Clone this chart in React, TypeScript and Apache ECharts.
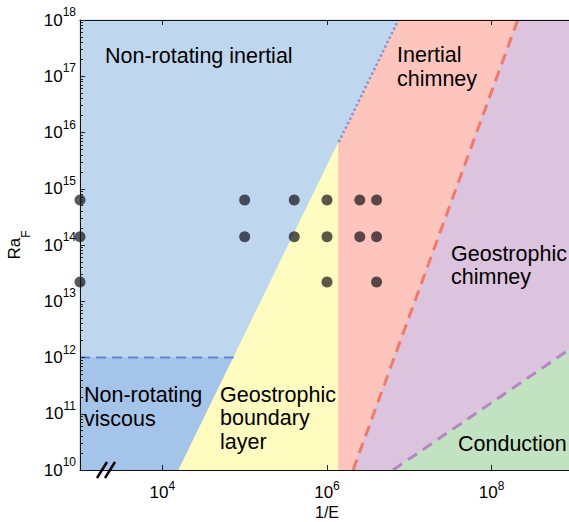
import React, { useEffect, useRef } from 'react';
import * as echarts from 'echarts';

// Axis ticks (log10 exponents)
const xTickExps = [4, 6, 8];
const yTickExps = [10, 11, 12, 13, 14, 15, 16, 17, 18];
const xRange = [3, 9];
const yRange = [10, 18];

// Simulation points: 1/E and Ra_F
const simInvE = [1e3, 1e3, 1e3, 1e5, 1e5, 4e5, 4e5, 1e6, 1e6, 1e6, 2.5e6, 2.5e6, 4e6, 4e6, 4e6];
const simRaF = [6.3e14, 1.4e14, 2.2e13, 6.3e14, 1.4e14, 6.3e14, 1.4e14, 6.3e14, 1.4e14, 2.2e13, 6.3e14, 1.4e14, 6.3e14, 1.4e14, 2.2e13];

// Regime boundaries, as [log10(1/E), log10(Ra_F)] end points
const viscousTop = 12; // Ra_F = 1e12
const lineInertialBL = [[4.2, 10], [6.867, 18]]; // Ra_F ~ E^-3
const chimneyOnset = 6.143; // log10(1/E) of vertical boundary
const lineChimney = [[6.317, 10], [8.317, 18]]; // Ra_F ~ E^-4
const lineConduction = [[6.802, 10], [9, 12.198]]; // Ra_F ~ E^-1

const regionNames = [
  'Non-rotating inertial',
  'Inertial\nchimney',
  'Geostrophic\nchimney',
  'Non-rotating\nviscous',
  'Geostrophic\nboundary\nlayer',
  'Conduction',
];

const FONT = '"Liberation Sans", Arial, Helvetica, sans-serif';

function uAt(line: number[][], v: number) {
  const [[u0, v0], [u1, v1]] = line;
  return u0 + ((v - v0) * (u1 - u0)) / (v1 - v0);
}
function vAt(line: number[][], u: number) {
  const [[u0, v0], [u1, v1]] = line;
  return v0 + ((u - u0) * (v1 - v0)) / (u1 - u0);
}

export default function App() {
  const ref = useRef<HTMLDivElement>(null);
  useEffect(() => {
    if (!ref.current) return;
    document.body.style.margin = '0';
    const chart = echarts.init(ref.current, null, { renderer: 'svg' });

    const A = lineInertialBL;
    const B = lineChimney;
    const C = lineConduction;
    const uV = uAt(A, viscousTop);
    const vOn = vAt(A, chimneyOnset);
    const [x0, x1] = xRange;
    const [y0, y1] = yRange;

    const regions = [
      { color: '#bed7ef', pts: [[x0, viscousTop], [uV, viscousTop], A[1], [x0, y1]] },
      { color: '#a4c4e9', pts: [[x0, y0], A[0], [uV, viscousTop], [x0, viscousTop]] },
      { color: '#fefcbf', pts: [A[0], [chimneyOnset, y0], [chimneyOnset, vOn]] },
      { color: '#fec5bd', pts: [[chimneyOnset, y0], B[0], B[1], A[1], [chimneyOnset, vOn]] },
      { color: '#dcc3de', pts: [B[0], C[0], C[1], [x1, y1], B[1]] },
      { color: '#c1e3c1', pts: [C[0], [x1, y0], C[1]] },
    ];

    const minorY: number[] = [];
    for (let d = y0; d < y1; d++) {
      for (let k = 2; k <= 9; k++) minorY.push(d + Math.log10(k));
    }

    const lineBase = { type: 'value', z: 10, splitLine: { show: false } };
    const axisLine = { show: true, onZero: false, lineStyle: { color: '#111', width: 1 } };
    const tickStyle = { color: '#222', width: 1 };

    const yRich = {
      b: { fontSize: 17, lineHeight: 28, fontFamily: FONT, color: '#000' },
      s: { fontSize: 12, lineHeight: 12, verticalAlign: 'top', fontFamily: FONT, color: '#000' },
    };
    const xRich = {
      b: { fontSize: 17, lineHeight: 24, fontFamily: FONT, color: '#000' },
      s: { fontSize: 12, lineHeight: 12, verticalAlign: 'top', fontFamily: FONT, color: '#000' },
    };
    const supFmt = (v: number) => `{b|10}{s|${Math.round(v)}}`;

    const labelPos = [
      { x: 105, y: 44.5 },
      { x: 397, y: 43.5 },
      { x: 451, y: 242 },
      { x: 84, y: 383.5 },
      { x: 220, y: 383 },
      { x: 458, y: 432 },
    ];

    const option: any = {
      animation: false,
      textStyle: { fontFamily: FONT },
      grid: [
        { left: 80, top: 20, right: -5, bottom: 52, outerBoundsMode: 'none' },
        { left: 80, top: 20, right: -5, bottom: 52, outerBoundsMode: 'none' },
      ],
      xAxis: [
        {
          ...lineBase,
          gridIndex: 0,
          position: 'bottom',
          min: x0,
          max: x1,
          interval: 1,
          axisLine,
          axisTick: { show: true, inside: true, length: 5, customValues: xTickExps, lineStyle: tickStyle },
          axisLabel: { customValues: xTickExps, margin: 10, formatter: supFmt, rich: xRich },
          name: '1/E',
          nameLocation: 'middle',
          nameGap: 34,
          nameMoveOverlap: false,
          nameTextStyle: { fontSize: 16, color: '#000', fontFamily: FONT },
        },
        {
          ...lineBase,
          gridIndex: 0,
          position: 'top',
          min: x0,
          max: x1,
          interval: 1,
          axisLine,
          axisTick: { show: true, inside: true, length: 5, customValues: xTickExps, lineStyle: tickStyle },
          axisLabel: { show: false },
        },
        {
          ...lineBase,
          gridIndex: 1,
          min: x0,
          max: x1,
          show: false,
        },
      ],
      yAxis: [
        {
          ...lineBase,
          gridIndex: 0,
          position: 'left',
          min: y0,
          max: y1,
          interval: 1,
          axisLine,
          axisTick: { show: true, inside: true, length: 5, lineStyle: tickStyle },
          axisLabel: { margin: 4, formatter: supFmt, rich: yRich },
          name: '{a|Ra}{f|F}',
          nameLocation: 'middle',
          nameGap: 48,
          nameRotate: 90,
          nameMoveOverlap: false,
          nameTextStyle: {
            color: '#000',
            rich: {
              a: { fontSize: 17, lineHeight: 35, fontFamily: FONT, color: '#000' },
              f: { fontSize: 12, lineHeight: 12, verticalAlign: 'bottom', fontFamily: FONT, color: '#000' },
            },
          },
        },
        {
          ...lineBase,
          gridIndex: 0,
          position: 'right',
          min: y0,
          max: y1,
          interval: 1,
          axisLine,
          axisTick: { show: true, inside: true, length: 5, lineStyle: tickStyle },
          axisLabel: { show: false },
        },
        {
          ...lineBase,
          gridIndex: 1,
          position: 'left',
          min: y0,
          max: y1,
          interval: 1,
          axisLine: { show: false },
          axisTick: { show: true, inside: true, length: 3, customValues: minorY, lineStyle: tickStyle },
          axisLabel: { show: false },
        },
        {
          ...lineBase,
          gridIndex: 1,
          position: 'right',
          min: y0,
          max: y1,
          interval: 1,
          axisLine: { show: false },
          axisTick: { show: true, inside: true, length: 3, customValues: minorY, lineStyle: tickStyle },
          axisLabel: { show: false },
        },
      ],
      series: [
        {
          type: 'custom',
          xAxisIndex: 0,
          yAxisIndex: 0,
          z: 1,
          silent: true,
          clip: false,
          data: regions.map((r) => [r.pts[0][0], r.pts[0][1]]),
          renderItem: (params: any, api: any) => {
            const r = regions[params.dataIndex];
            return {
              type: 'polygon',
              shape: { points: r.pts.map((p) => api.coord(p)) },
              style: { fill: r.color, stroke: r.color, lineWidth: 1 },
            };
          },
        },
        {
          type: 'line',
          xAxisIndex: 0,
          yAxisIndex: 0,
          z: 3,
          symbol: 'none',
          silent: true,
          data: [[x0, viscousTop], [uV, viscousTop]],
          lineStyle: { color: '#5f86d0', width: 2, type: [10, 6] },
        },
        {
          type: 'line',
          xAxisIndex: 0,
          yAxisIndex: 0,
          z: 3,
          symbol: 'none',
          silent: true,
          data: [[chimneyOnset, vOn], A[1]],
          lineStyle: { color: '#7f97d8', width: 2.5, type: [2.5, 2.5] },
        },
        {
          type: 'line',
          xAxisIndex: 0,
          yAxisIndex: 0,
          z: 3,
          symbol: 'none',
          silent: true,
          data: B,
          lineStyle: { color: '#f3796a', width: 3, type: [11, 7] },
        },
        {
          type: 'line',
          xAxisIndex: 0,
          yAxisIndex: 0,
          z: 3,
          symbol: 'none',
          silent: true,
          clip: false,
          data: C,
          lineStyle: { color: '#b586c1', width: 3, type: [11, 7] },
        },
        {
          type: 'scatter',
          xAxisIndex: 0,
          yAxisIndex: 0,
          z: 5,
          clip: false,
          symbolSize: 11,
          itemStyle: { color: 'rgba(5,5,10,0.83)' },
          data: simInvE.map((e, i) => [Math.log10(e), Math.log10(simRaF[i])]),
        },
      ],
      graphic: [
        ...regionNames.map((t, i) => ({
          type: 'text',
          x: labelPos[i].x,
          y: labelPos[i].y,
          z: 20,
          silent: true,
          style: {
            text: t,
            fontSize: 21.5,
            fontFamily: FONT,
            fill: '#000',
            lineHeight: 23.5,
            verticalAlign: 'top',
            align: 'left',
          },
        })),
        {
          type: 'line',
          z: 30,
          shape: { x1: 97, y1: 478, x2: 107, y2: 462 },
          style: { stroke: '#000', lineWidth: 2.5 },
        },
        {
          type: 'line',
          z: 30,
          shape: { x1: 105, y1: 478, x2: 115, y2: 462 },
          style: { stroke: '#000', lineWidth: 2.5 },
        },
      ],
    };

    chart.setOption(option);
    return () => chart.dispose();
  }, []);

  return <div ref={ref} style={{ width: 569, height: 522, position: 'absolute', left: 0, top: 0 }} />;
}
